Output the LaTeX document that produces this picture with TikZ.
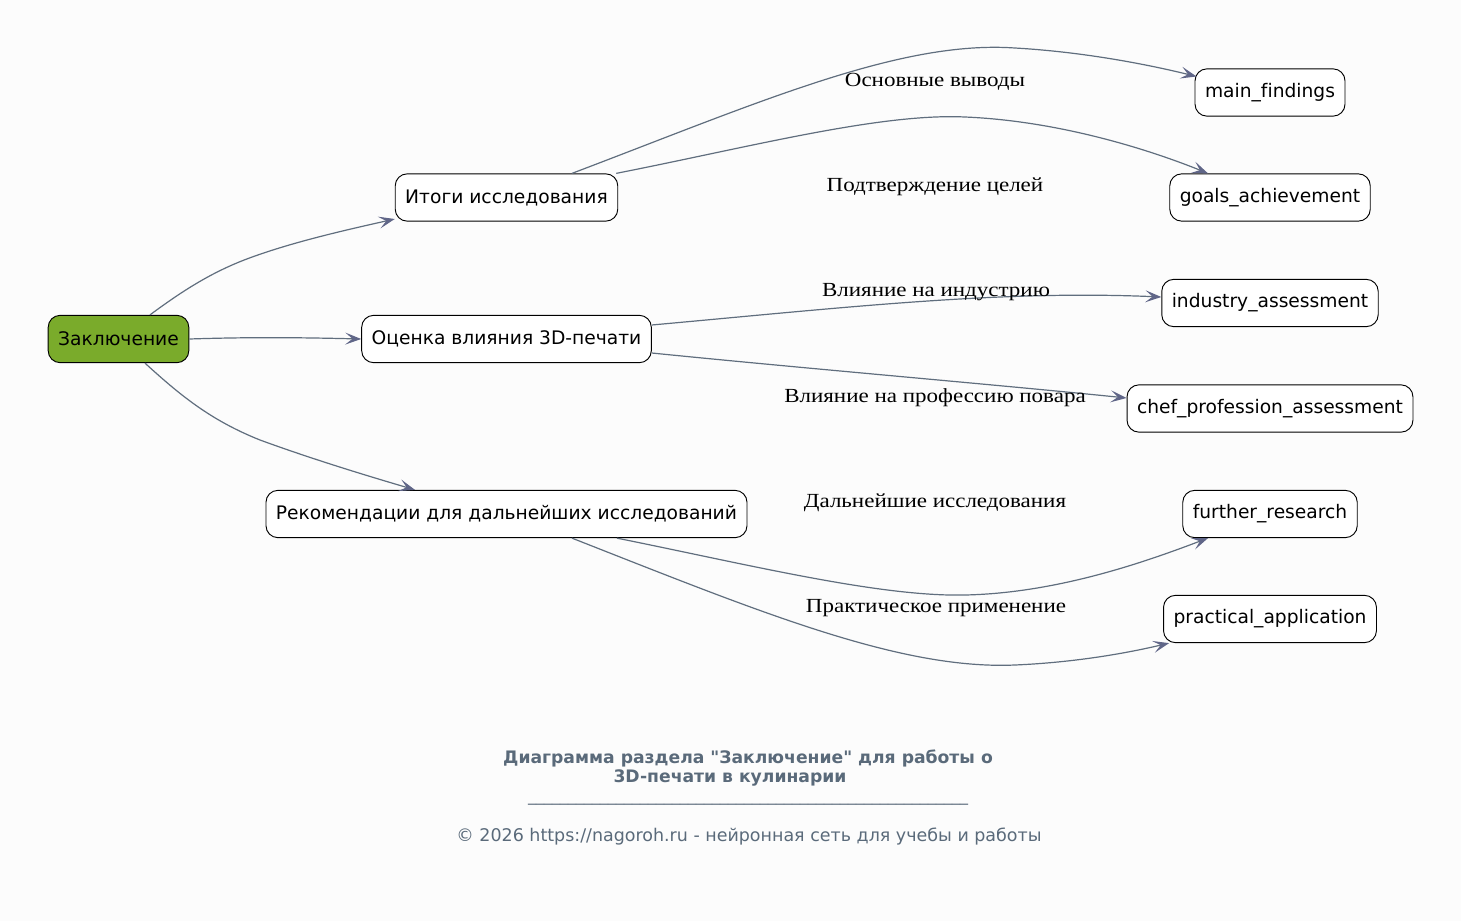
\documentclass[tikz,border=0pt]{standalone}
\usepackage{fontspec}
\setmainfont{DejaVu Sans}
\newfontfamily\plainsans[Ligatures={TeXOff,NoCommon}]{DejaVu Sans}
\newfontfamily\lblfont[FakeStretch=1.15]{Liberation Serif}
\usetikzlibrary{arrows.meta,calc}
\definecolor{bgc}{RGB}{252,252,252}
\definecolor{rootc}{RGB}{122,171,43}
\definecolor{edgec}{RGB}{96,110,126}
\definecolor{arrc}{RGB}{96,102,136}
\definecolor{titlec}{RGB}{90,106,122}
\tikzset{
  box/.style={draw=black, rounded corners=9pt, fill=white, minimum height=35.5pt,
    inner xsep=7.5pt, font=\plainsans\fontsize{14pt}{16pt}\selectfont, line width=0.7pt},
  conn/.style={draw=edgec, line width=0.9pt,
    -{Stealth[length=12pt,width=9pt,inset=5.5pt,color=arrc,fill=arrc]}},
  lbl/.style={font=\lblfont\fontsize{15pt}{17pt}\selectfont, text=black, inner sep=0pt},
  ttl/.style={font=\plainsans\bfseries\fontsize{12.9pt}{13.6pt}\selectfont, text=titlec, align=center, inner sep=0pt},
  foot/.style={font=\fontsize{13.1pt}{15pt}\selectfont, text=titlec, inner sep=0pt},
  rulefont/.style={font=\fontsize{12pt}{14pt}\selectfont, text=titlec, inner sep=0pt}
}
\begin{document}
\begin{tikzpicture}[x=0.75pt,y=-0.75pt]
\useasboundingbox (0,0) rectangle (1461,921);
\fill[bgc] (0,0) rectangle (1461,921);

\node[box, fill=rootc] (root) at (118.5,339) {Заключение};
\node[box] (it) at (506.5,197.5) {Итоги исследования};
\node[box] (oc) at (506.5,339) {Оценка влияния 3D-печати};
\node[box] (rec) at (506.5,514) {Рекомендации для дальнейших исследований};
\node[box] (mf) at (1270,92.5) {main\_findings};
\node[box] (ga) at (1270,197.5) {goals\_achievement};
\node[box] (ia) at (1270,303) {industry\_assessment};
\node[box] (cp) at (1270,408.5) {chef\_profession\_assessment};
\node[box] (fr) at (1270,514) {further\_research};
\node[box] (pa) at (1270,619) {practical\_application};

\draw[conn] ($(root.north)+(31.5,0)$) .. controls (185,289) and (215,270) .. (255,256)
  .. controls (300,240) and (355,228) .. ($(it.west)+(0,21.5)$);
\draw[conn] (root.east) .. controls (250,337) and (300,337.5) .. (oc.west);
\draw[conn] ($(root.south)+(26.5,0)$) .. controls (180,395) and (210,420) .. (260,440)
  .. controls (320,462) and (385,481) .. ($(rec.north)+(-91.5,0)$);

\draw[conn] ($(it.north)+(65.5,0)$) .. controls (760,102) and (900,40) .. (1015,48)
  .. controls (1085,52) and (1150,65) .. ($(mf.west)+(2,-16)$);
\draw[conn] ($(it.north east)+(-2,0)$) .. controls (750,147) and (880,113) .. (965,117)
  .. controls (1060,121) and (1150,150) .. ($(ga.north)+(-62,0)$);

\draw[conn] ($(oc.east)+(0,-14)$) .. controls (850,307) and (1000,290) .. ($(ia.west)+(0,-6)$);
\draw[conn] ($(oc.east)+(0,14)$) .. controls (800,368) and (1000,385) .. ($(cp.west)+(0,-10.5)$);

\draw[conn] ($(rec.south)+(110.5,0)$) .. controls (750,565) and (880,597) .. (965,595)
  .. controls (1060,593) and (1150,560) .. ($(fr.south)+(-62,0)$);
\draw[conn] ($(rec.south)+(65.5,0)$) .. controls (760,612) and (900,670) .. (1015,665)
  .. controls (1085,662) and (1140,650) .. ($(pa.south west)+(6,0)$);

\node[lbl] (l1) at (935,82) {Основные выводы};
\node[lbl] (l2) at (935,187) {Подтверждение целей};
\node[lbl] (l3) at (936,292) {Влияние на индустрию};
\node[lbl] (l4) at (935,398) {Влияние на профессию повара};
\node[lbl] (l5) at (935,503) {Дальнейшие исследования};
\node[lbl] (l6) at (936,608) {Практическое применение};

\node[ttl] (title) at (748,768) {Диаграмма раздела "Заключение" для работы о\\3D-печати в кулинарии\hspace*{27pt}};
\node[rulefont] (rule) at (748,803) {\_\_\_\_\_\_\_\_\_\_\_\_\_\_\_\_\_\_\_\_\_\_\_\_\_\_\_\_\_\_\_\_\_\_\_\_\_\_\_\_\_\_\_\_\_\_\_\_\_\_\_\_\_\_\_};
\node[foot] (footer) at (749,837) {© 2026 https://nagoroh.ru - нейронная сеть для учебы и работы};
\end{tikzpicture}
\end{document}
